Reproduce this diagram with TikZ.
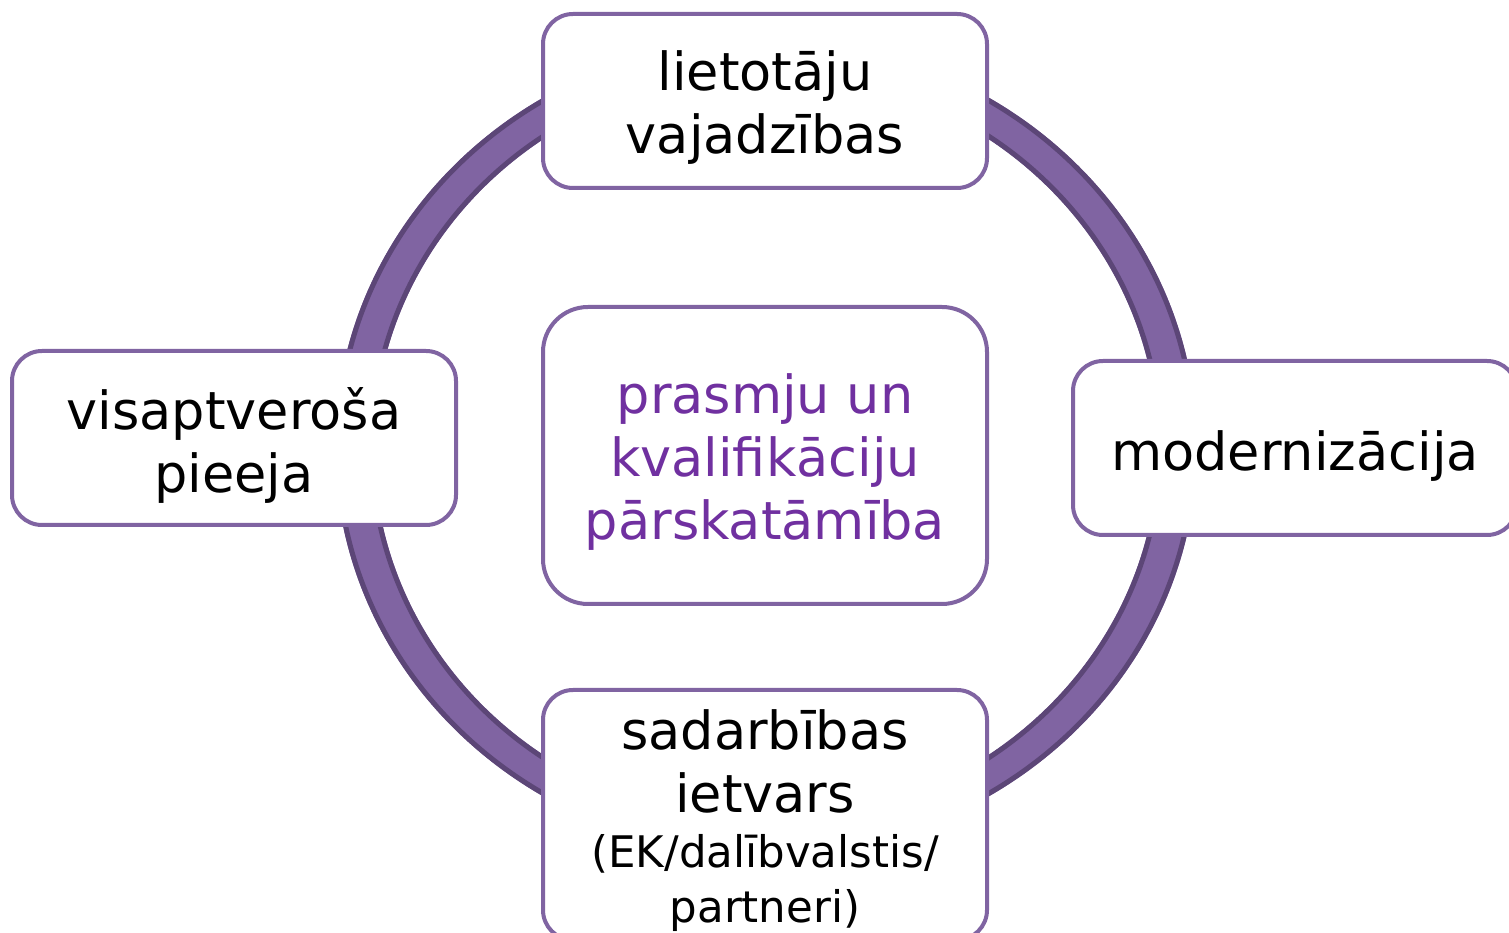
\documentclass[tikz,border=0pt]{standalone}
\usepackage{fontspec}
\setmainfont{DejaVu Sans}
\definecolor{ringc}{HTML}{8064A2}
\definecolor{ringdark}{HTML}{5C4677}
\definecolor{boxc}{HTML}{8064A2}
\definecolor{centertext}{HTML}{7030A0}
\tikzset{
  boxnode/.style={draw=boxc, line width=4pt, fill=white, rounded corners=30pt,
    minimum width=444pt, minimum height=174pt, inner sep=0pt},
  boxtext/.style={align=center, inner sep=0pt, text=black,
    font=\fontsize{52.5}{63}\selectfont}
}
\begin{document}
\begin{tikzpicture}[x=1pt,y=1pt]
\useasboundingbox (0,0) rectangle (1509,932);
\clip (0,0) rectangle (1509,932);
\fill[white] (0,0) rectangle (1509,932);
% ring
\fill[ringc, even odd rule] (766,485) ellipse [x radius=431, y radius=408]
  (766,485) ellipse [x radius=392, y radius=374];
\draw[ringdark, line width=5pt] (766,485) ellipse [x radius=428.5, y radius=405.5];
\draw[ringdark, line width=5pt] (766,485) ellipse [x radius=394.5, y radius=376.5];
% boxes
\node[boxnode] (top) at (765,831) {};
\node[boxnode, minimum height=297pt, rounded corners=45pt] (center) at (765,476.5) {};
\node[boxnode] (left) at (234,494) {};
\node[boxnode] (right) at (1295,484) {};
\node[boxnode, minimum height=250pt] (bottom) at (765,117) {};
% texts
\node[boxtext] (toptext) at ([yshift=-7pt]top.center) {lietotāju\\vajadzības};
\node[boxtext, text=centertext] (centertxt) at ([yshift=-7pt]center.center) {prasmju un\\kvalifikāciju\\pārskatāmība};
\node[boxtext] (lefttext) at ([yshift=-7pt]left.center) {visaptveroša\\pieeja};
\node[boxtext] (righttext) at ([yshift=-8pt]right.center) {modernizācija};
\node[boxtext] (bottomtext) at ([yshift=-6pt]bottom.center) {sadarbības\\ietvars\\[-8pt]{\fontsize{43.5}{53}\selectfont (EK/dalībvalstis/}\\[-8pt]{\fontsize{43.5}{53}\selectfont partneri)}};
\end{tikzpicture}
\end{document}
